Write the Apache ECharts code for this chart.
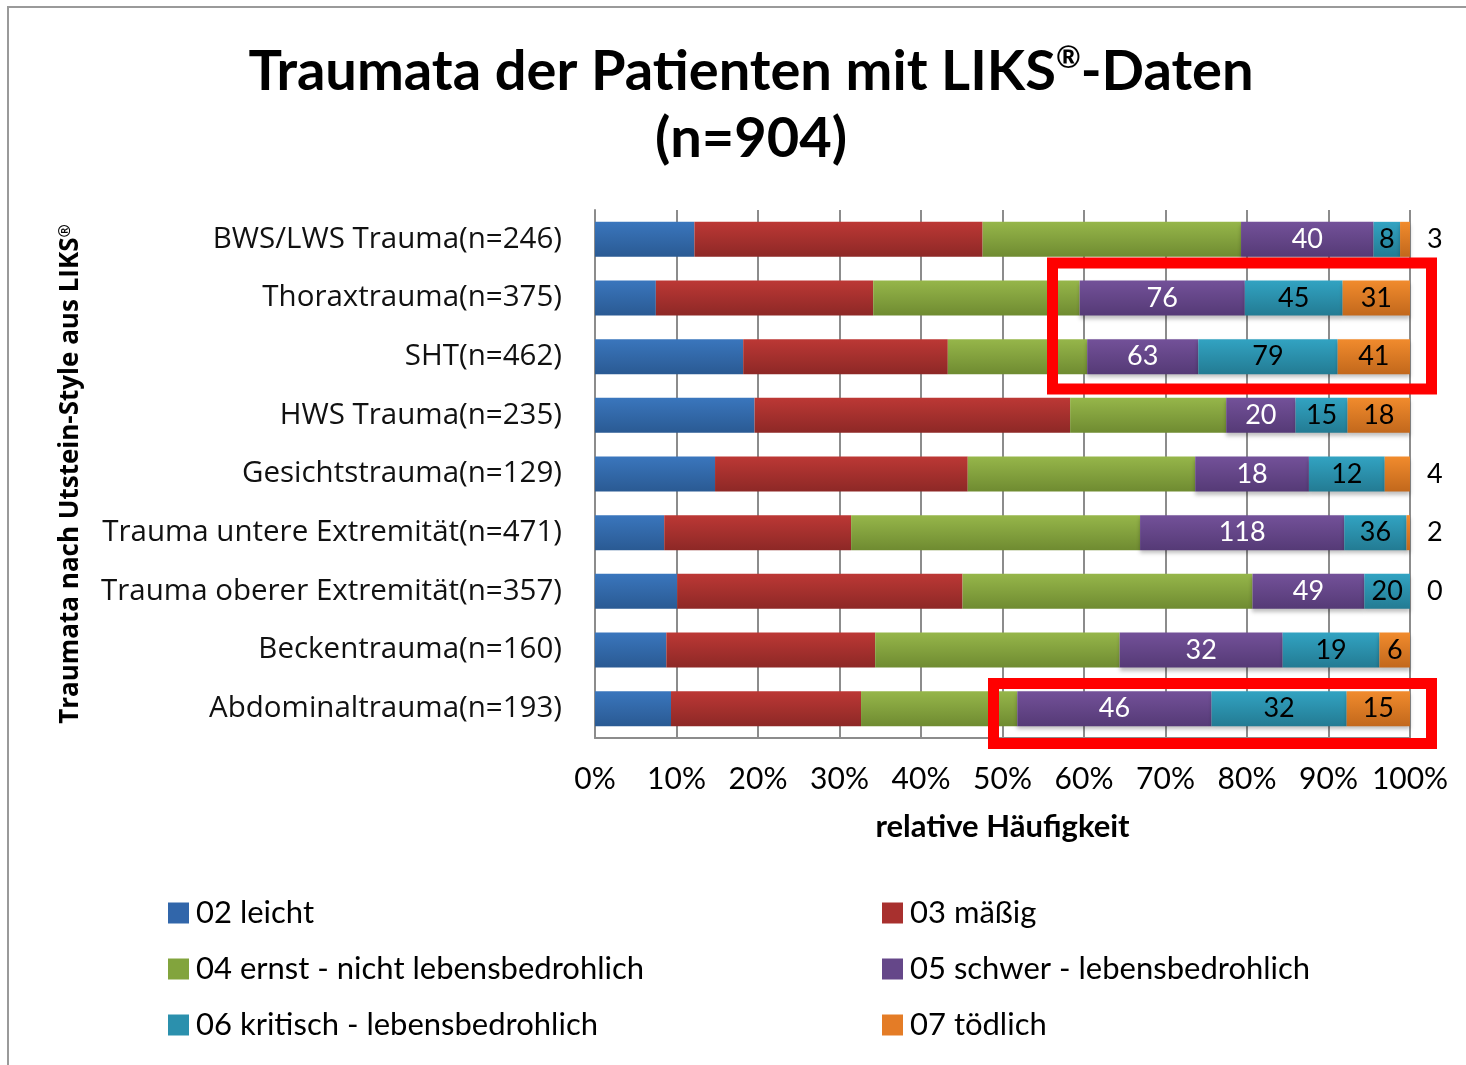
<!DOCTYPE html>
<html>
<head>
<meta charset="utf-8">
<script src="https://cdn.jsdelivr.net/npm/echarts@6/dist/echarts.min.js"></script>
<style>
  html, body { margin: 0; padding: 0; background: #fff; }
  #chart { width: 1466px; height: 1065px; }
</style>
</head>
<body>
<div id="chart"></div>
<script>
// Kategorien (von oben nach unten)
const categories = [
  "BWS/LWS Trauma(n=246)",
  "Thoraxtrauma(n=375)",
  "SHT(n=462)",
  "HWS Trauma(n=235)",
  "Gesichtstrauma(n=129)",
  "Trauma untere Extremität(n=471)",
  "Trauma oberer Extremität(n=357)",
  "Beckentrauma(n=160)",
  "Abdominaltrauma(n=193)"
];
const totals = [246, 375, 462, 235, 129, 471, 357, 160, 193];

// Anzahl Patienten je Schweregrad
const leicht = [30, 28, 84, 46, 19, 40, 36, 14, 18];
const maessig = [87, 100, 116, 91, 40, 108, 125, 41, 45];
const ernst = [78, 95, 79, 45, 36, 167, 127, 48, 37];
const schwer = [40, 76, 63, 20, 18, 118, 49, 32, 46];
const kritisch = [8, 45, 79, 15, 12, 36, 20, 19, 32];
const toedlich = [3, 31, 41, 18, 4, 2, 0, 6, 15];

const seriesNames = [
  "02 leicht",
  "03 mäßig",
  "04 ernst - nicht lebensbedrohlich",
  "05 schwer - lebensbedrohlich",
  "06 kritisch - lebensbedrohlich",
  "07 tödlich"
];
const xTicks = [0, 10, 20, 30, 40, 50, 60, 70, 80, 90, 100];

let chart = echarts.init(document.getElementById("chart"));

// Farbverlauf wie in Excel (oben heller, unten dunkler)
function grad(top, bottom) {
  return new echarts.graphic.LinearGradient(0, 0, 0, 1, [
    { offset: 0, color: top },
    { offset: 1, color: bottom }
  ]);
}
const colors = [
  ["#3a76bd", "#2a5a93"],
  ["#bc3835", "#8d2826"],
  ["#96b64a", "#6f8b31"],
  ["#735199", "#553a76"],
  ["#32a3c2", "#237b93"],
  ["#f18b2d", "#c2681c"]
];
const legendColors = ["#3166aa", "#a8302e", "#82a43d", "#654789", "#2b90ad", "#e47c26"];

function makeSeries(idx, counts, showLabel, labelColor) {
  return {
    name: seriesNames[idx],
    type: "bar",
    stack: "total",
    barWidth: 35,
    itemStyle: {
      color: grad(colors[idx][0], colors[idx][1]),
      shadowColor: "rgba(0,0,0,0.25)",
      shadowBlur: 4,
      shadowOffsetY: 3
    },
    label: {
      show: showLabel,
      position: "inside",
      color: labelColor,
      fontFamily: "Lato",
      fontSize: 27,
      formatter: p => p.data.count
    },
    data: counts.map((c, i) => {
      let item = { value: (c / totals[i]) * 100, count: c };
      // kleine Werte stehen rechts neben dem Balken
      if (showLabel && idx == 5 && c < 5) {
        item.label = { position: "right", distance: 17, color: "#000" };
      }
      return item;
    })
  };
}

const legendText = { fontFamily: "Lato", fontSize: 31, color: "#000", lineHeight: 32, padding: [0, 0, 0, 2] };

let option = {
  animation: false,
  backgroundColor: "#fff",
  title: {
    text: "Traumata der Patienten mit LIKS{sup|®}-Daten\n(n=904)",
    left: 746,
    top: 33,
    textAlign: "center",
    textStyle: {
      fontFamily: "Lato",
      fontWeight: "bold",
      fontSize: 56,
      lineHeight: 67,
      color: "#000",
      rich: {
        sup: {
          fontFamily: "Lato",
          fontWeight: "bold",
          fontSize: 30,
          lineHeight: 67,
          padding: [0, 0, 26, 0],
          color: "#000"
        }
      }
    }
  },
  legend: [
    {
      data: [seriesNames[0], seriesNames[2], seriesNames[4]],
      orient: "vertical",
      left: 163,
      top: 892,
      itemWidth: 21,
      itemHeight: 21,
      itemGap: 24,
      icon: "rect",
      textStyle: legendText
    },
    {
      data: [seriesNames[1], seriesNames[3], seriesNames[5]],
      orient: "vertical",
      left: 877,
      top: 892,
      itemWidth: 21,
      itemHeight: 21,
      itemGap: 24,
      icon: "rect",
      textStyle: legendText
    }
  ],
  grid: {
    left: 595,
    right: 56,
    top: 210,
    bottom: 327,
    containLabel: false
  },
  xAxis: {
    type: "value",
    min: 0,
    max: 100,
    interval: 10,
    name: "relative Häufigkeit",
    nameLocation: "middle",
    nameGap: 73,
    nameTextStyle: { fontFamily: "Lato", fontWeight: "bold", fontSize: 31, color: "#000" },
    axisLine: { show: true, lineStyle: { color: "#8c8c8c", width: 2 } },
    axisTick: { show: false },
    axisLabel: {
      fontFamily: "Lato",
      fontSize: 30,
      color: "#000",
      margin: 26,
      formatter: v => (xTicks.indexOf(v) >= 0 ? v + "%" : "")
    },
    splitLine: { show: true, lineStyle: { color: "#8c8c8c", width: 2 } }
  },
  yAxis: {
    type: "category",
    data: categories,
    inverse: true,
    name: "Traumata nach Utstein-Style aus LIKS{sup|®}",
    nameLocation: "middle",
    nameGap: 510,
    nameRotate: 90,
    nameTextStyle: {
      fontFamily: "Open Sans",
      fontWeight: "bold",
      fontSize: 26,
      color: "#000",
      rich: {
        sup: {
          fontFamily: "Open Sans",
          fontWeight: "bold",
          fontSize: 16,
          padding: [0, 0, 12, 0],
          color: "#000"
        }
      }
    },
    axisLine: { show: true, lineStyle: { color: "#8c8c8c", width: 2 } },
    axisTick: { show: false },
    axisLabel: { fontFamily: "Open Sans", fontSize: 29.5, color: "#111", margin: 33 }
  },
  series: [
    makeSeries(0, leicht, false, "#fff"),
    makeSeries(1, maessig, false, "#fff"),
    makeSeries(2, ernst, false, "#fff"),
    makeSeries(3, schwer, true, "#fff"),
    makeSeries(4, kritisch, true, "#000"),
    makeSeries(5, toedlich, true, "#000")
  ],
  graphic: [
    // Rahmen
    {
      type: "rect",
      shape: { x: 8, y: 7, width: 1500, height: 1100 },
      style: { fill: "none", stroke: "#9a9a9a", lineWidth: 2 },
      silent: true
    },
    // rote Markierungen
    {
      type: "rect",
      shape: { x: 1052.5, y: 263, width: 379, height: 126 },
      style: { fill: "none", stroke: "#ff0000", lineWidth: 11 },
      z: 100
    },
    {
      type: "rect",
      shape: { x: 993.5, y: 683.5, width: 438, height: 60 },
      style: { fill: "none", stroke: "#ff0000", lineWidth: 11 },
      z: 100
    }
  ]
};

chart.setOption(option);
// Legendensymbole in Vollfarbe
chart.setOption({
  legend: option.legend.map(l => ({
    data: l.data.map(n => ({
      name: n,
      itemStyle: { color: legendColors[seriesNames.indexOf(n)] }
    }))
  }))
});

window.onresize = function() {
  chart.resize();
};
</script>
</body>
</html>
